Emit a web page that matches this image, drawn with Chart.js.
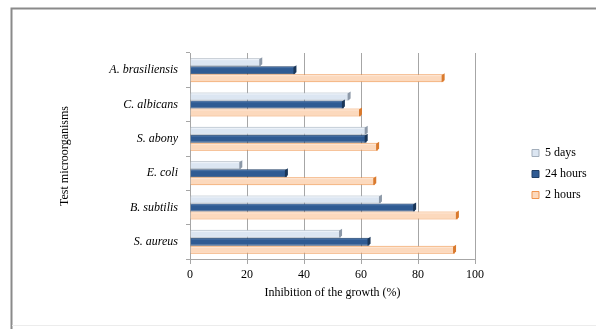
<!DOCTYPE html>
<html>
<head>
<meta charset="utf-8">
<script src="https://cdn.jsdelivr.net/npm/chart.js@4/dist/chart.umd.min.js"></script>
<style>
  html, body { margin: 0; padding: 0; background: #fff; }
  #wrap { width: 596px; height: 329px; position: relative; }
</style>
</head>
<body>
<div id="wrap"><canvas id="c" width="596" height="329"></canvas></div>
<script>
// Test organisms, listed top to bottom
const organisms = ['A. brasiliensis', 'C. albicans', 'S. abony', 'E. coli', 'B. subtilis', 'S. aureus'];

// Growth inhibition (%) after each contact time
const fiveDays = [25, 56, 62, 18, 67, 53];
const hours24  = [37, 54, 62, 34, 79, 63];
const hours2   = [89, 60, 66, 65, 94, 93];

const seriesNames = ['5 days', '24 hours', '2 hours'];
const xTicks = [0, 20, 40, 60, 80, 100];

const SERIF = '"Liberation Serif", "Times New Roman", serif';

// Page frame and white background
const framePlugin = {
  id: 'frame',
  beforeDraw(chart) {
    const ctx = chart.ctx;
    ctx.save();
    ctx.fillStyle = '#ffffff';
    ctx.fillRect(0, 0, chart.width, chart.height);
    ctx.strokeStyle = '#8a8a8a';
    ctx.lineWidth = 2;
    ctx.beginPath();
    ctx.moveTo(11.5, chart.height);
    ctx.lineTo(11.5, 8.5);
    ctx.lineTo(chart.width, 8.5);
    ctx.stroke();
    ctx.strokeStyle = '#ececec';
    ctx.lineWidth = 1;
    ctx.beginPath();
    ctx.moveTo(12, 325.5);
    ctx.lineTo(chart.width, 325.5);
    ctx.stroke();
    ctx.restore();
  }
};

// Legend sits in its own column to the right of the plot
const legendPlace = {
  id: 'legendPlace',
  beforeInit(chart) {
    const lg = chart.legend;
    if (!lg) return;
    const fit = lg.fit;
    lg.fit = function () {
      fit.call(this);
      this.width = 121;
    };
  },
  afterLayout(chart) {
    const lg = chart.legend;
    if (!lg) return;
    const w = lg.right - lg.left;
    lg.left = 523; lg.right = 523 + w;
    lg.top = 55; lg.bottom = 293;
  }
};

// Shaded end face on each bar for a little depth
const barDepth = {
  id: 'barDepth',
  afterDatasetsDraw(chart) {
    const ctx = chart.ctx;
    const shades = ['#8d99a8', '#1a3658', '#d97a2e'];
    const tops = ['#eef3f9', '#446ea3', '#fde6d3'];
    ctx.save();
    chart.data.datasets.forEach((ds, i) => {
      const meta = chart.getDatasetMeta(i);
      meta.data.forEach(el => {
        const p = el.getProps(['x', 'y', 'base', 'height'], true);
        const t = p.y - p.height / 2, b = p.y + p.height / 2;
        ctx.fillStyle = tops[i];
        ctx.fillRect(p.base + 1, t + 1, p.x - p.base - 3, 1);
        ctx.fillStyle = shades[i];
        ctx.beginPath();
        ctx.moveTo(p.x - 2, t + 1);
        ctx.lineTo(p.x + 1, t - 1);
        ctx.lineTo(p.x + 1, b - 2);
        ctx.lineTo(p.x - 2, b);
        ctx.closePath();
        ctx.fill();
      });
    });
    ctx.restore();
  }
};

new Chart(document.getElementById('c'), {
  type: 'bar',
  data: {
    labels: organisms,
    datasets: [
      { label: seriesNames[0], data: fiveDays, backgroundColor: '#dce6f2', borderColor: '#a3aebb', borderWidth: 1 },
      { label: seriesNames[1], data: hours24,  backgroundColor: '#2f5b93', borderColor: '#203f66', borderWidth: 1 },
      { label: seriesNames[2], data: hours2,   backgroundColor: '#fcd9bd', borderColor: '#f0954f', borderWidth: 1 }
    ]
  },
  options: {
    indexAxis: 'y',
    responsive: false,
    animation: false,
    devicePixelRatio: 1,
    layout: { padding: { left: 0, top: 53, right: 0, bottom: 0 } },
    datasets: { bar: { categoryPercentage: 0.7, barPercentage: 1 } },
    plugins: {
      tooltip: { enabled: false },
      legend: {
        position: 'right',
        align: 'center',
        labels: {
          boxWidth: 7,
          boxHeight: 7,
          padding: 9,
          color: '#000',
          font: { family: SERIF, size: 12 }
        }
      }
    },
    scales: {
      x: {
        min: 0, max: 100,
        afterBuildTicks(scale) { scale.ticks = xTicks.map(v => ({ value: v })); },
        afterFit(scale) { scale.height = 70; },
        grid: { color: '#a6a6a6', tickLength: 5, drawTicks: true },
        border: { color: '#a6a6a6' },
        ticks: { color: '#000', padding: 4, font: { family: SERIF, size: 12 } },
        title: {
          display: true,
          text: 'Inhibition of the growth (%)',
          color: '#000',
          font: { family: SERIF, size: 12 },
          padding: { top: 0, bottom: 29 }
        }
      },
      y: {
        afterFit(scale) { scale.width = 190; },
        grid: { drawOnChartArea: false, drawTicks: true, tickLength: 4, color: '#a6a6a6' },
        border: { color: '#a6a6a6' },
        ticks: { color: '#000', padding: 8, font: { family: SERIF, size: 12, style: 'italic' } },
        title: {
          display: true,
          text: 'Test microorganisms',
          color: '#000',
          font: { family: SERIF, size: 12 },
          padding: { top: 58, bottom: 0 }
        }
      }
    }
  },
  plugins: [framePlugin, legendPlace, barDepth]
});
</script>
</body>
</html>
